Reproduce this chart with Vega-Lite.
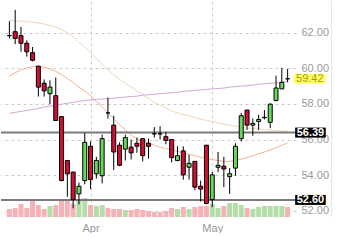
{
  "$schema": "https://vega.github.io/schema/vega-lite/v6.json",
  "width": 295,
  "height": 216,
  "padding": 0,
  "background": "white",
  "config": {"view": {"stroke": null}, "font": "Liberation Sans"},
  "datasets": {
    "candles": [
      {"i":0,"o":61.85,"h":62.66,"l":61.69,"c":61.85,"vol":1110,"ma1":62.71,"ma2":59.57,"ma3":57.48},
      {"i":1,"o":62.07,"h":63.30,"l":61.37,"c":61.69,"vol":1250,"ma1":62.68,"ma2":59.76,"ma3":57.53},
      {"i":2,"o":61.85,"h":62.34,"l":60.94,"c":61.42,"vol":1810,"ma1":62.66,"ma2":59.92,"ma3":57.58},
      {"i":3,"o":61.42,"h":61.58,"l":60.67,"c":60.94,"vol":1250,"ma1":62.65,"ma2":60.03,"ma3":57.64},
      {"i":4,"o":60.89,"h":61.21,"l":60.40,"c":60.46,"vol":2360,"ma1":62.60,"ma2":60.11,"ma3":57.69},
      {"i":5,"o":60.13,"h":60.13,"l":58.42,"c":58.95,"vol":1670,"ma1":62.56,"ma2":60.13,"ma3":57.75},
      {"i":6,"o":59.17,"h":59.38,"l":58.42,"c":58.74,"vol":1110,"ma1":62.50,"ma2":60.08,"ma3":57.83},
      {"i":7,"o":58.58,"h":59.33,"l":57.99,"c":58.95,"vol":1530,"ma1":62.42,"ma2":59.97,"ma3":57.88},
      {"i":8,"o":58.47,"h":59.49,"l":57.07,"c":57.07,"vol":1670,"ma1":62.34,"ma2":59.84,"ma3":57.93},
      {"i":9,"o":57.29,"h":57.29,"l":53.64,"c":53.69,"vol":2360,"ma1":62.20,"ma2":59.65,"ma3":57.99},
      {"i":10,"o":54.82,"h":54.82,"l":52.78,"c":54.07,"vol":2220,"ma1":62.01,"ma2":59.44,"ma3":58.04},
      {"i":11,"o":54.17,"h":54.17,"l":52.13,"c":52.62,"vol":1810,"ma1":61.80,"ma2":59.20,"ma3":58.09},
      {"i":12,"o":52.94,"h":53.58,"l":52.35,"c":53.37,"vol":2360,"ma1":61.48,"ma2":58.95,"ma3":58.15},
      {"i":13,"o":53.69,"h":56.38,"l":53.48,"c":55.84,"vol":2640,"ma1":61.21,"ma2":58.74,"ma3":58.20},
      {"i":14,"o":55.62,"h":55.89,"l":53.21,"c":53.74,"vol":1670,"ma1":60.89,"ma2":58.47,"ma3":58.23},
      {"i":15,"o":54.07,"h":55.03,"l":53.80,"c":54.82,"vol":1530,"ma1":60.56,"ma2":58.15,"ma3":58.26},
      {"i":16,"o":53.96,"h":56.27,"l":53.53,"c":56.05,"vol":1670,"ma1":60.24,"ma2":57.85,"ma3":58.28},
      {"i":17,"o":57.50,"h":58.36,"l":57.18,"c":57.50,"vol":1250,"ma1":59.92,"ma2":57.50,"ma3":58.31},
      {"i":18,"o":56.81,"h":57.34,"l":54.28,"c":55.30,"vol":1110,"ma1":59.65,"ma2":57.18,"ma3":58.33},
      {"i":19,"o":55.68,"h":55.84,"l":54.50,"c":54.55,"vol":1110,"ma1":59.38,"ma2":56.83,"ma3":58.36},
      {"i":20,"o":55.46,"h":56.27,"l":54.82,"c":56.11,"vol":970,"ma1":59.17,"ma2":56.54,"ma3":58.39},
      {"i":21,"o":55.57,"h":56.00,"l":54.87,"c":55.25,"vol":970,"ma1":58.95,"ma2":56.24,"ma3":58.42},
      {"i":22,"o":55.79,"h":56.11,"l":55.25,"c":55.62,"vol":1110,"ma1":58.74,"ma2":56.05,"ma3":58.44},
      {"i":23,"o":56.05,"h":56.05,"l":54.77,"c":55.09,"vol":970,"ma1":58.52,"ma2":55.92,"ma3":58.50},
      {"i":24,"o":55.79,"h":56.05,"l":54.93,"c":55.62,"vol":830,"ma1":58.31,"ma2":55.79,"ma3":58.52},
      {"i":25,"o":56.32,"h":56.70,"l":56.11,"c":56.32,"vol":690,"ma1":58.09,"ma2":55.68,"ma3":58.55},
      {"i":26,"o":56.32,"h":56.75,"l":56.00,"c":56.32,"vol":690,"ma1":57.93,"ma2":55.57,"ma3":58.58},
      {"i":27,"o":56.16,"h":56.43,"l":55.73,"c":55.95,"vol":830,"ma1":57.77,"ma2":55.49,"ma3":58.60},
      {"i":28,"o":56.00,"h":56.00,"l":54.71,"c":54.98,"vol":1250,"ma1":57.61,"ma2":55.41,"ma3":58.63},
      {"i":29,"o":54.82,"h":55.62,"l":54.77,"c":55.09,"vol":1110,"ma1":57.50,"ma2":55.33,"ma3":58.66},
      {"i":30,"o":55.36,"h":55.62,"l":53.74,"c":54.01,"vol":1390,"ma1":57.40,"ma2":55.25,"ma3":58.71},
      {"i":31,"o":54.44,"h":55.14,"l":53.74,"c":54.66,"vol":1110,"ma1":57.34,"ma2":55.17,"ma3":58.74},
      {"i":32,"o":54.77,"h":54.77,"l":53.15,"c":53.32,"vol":1390,"ma1":57.23,"ma2":55.09,"ma3":58.77},
      {"i":33,"o":53.37,"h":53.69,"l":52.51,"c":53.21,"vol":1530,"ma1":57.15,"ma2":55.01,"ma3":58.79},
      {"i":34,"o":55.68,"h":55.68,"l":52.35,"c":52.40,"vol":1530,"ma1":57.07,"ma2":54.93,"ma3":58.82},
      {"i":35,"o":52.62,"h":54.17,"l":52.19,"c":54.01,"vol":1810,"ma1":57.02,"ma2":54.87,"ma3":58.85},
      {"i":36,"o":54.44,"h":55.30,"l":54.17,"c":54.55,"vol":1250,"ma1":56.94,"ma2":54.82,"ma3":58.87},
      {"i":37,"o":54.50,"h":55.03,"l":53.32,"c":54.34,"vol":1530,"ma1":56.86,"ma2":54.77,"ma3":58.90},
      {"i":38,"o":53.91,"h":54.39,"l":52.94,"c":54.07,"vol":1940,"ma1":56.81,"ma2":54.77,"ma3":58.95},
      {"i":39,"o":54.39,"h":55.79,"l":53.96,"c":55.62,"vol":1940,"ma1":56.75,"ma2":54.82,"ma3":58.98},
      {"i":40,"o":56.05,"h":57.50,"l":55.89,"c":57.34,"vol":1670,"ma1":56.70,"ma2":54.90,"ma3":59.01},
      {"i":41,"o":57.66,"h":57.66,"l":56.54,"c":56.81,"vol":1250,"ma1":56.64,"ma2":54.98,"ma3":59.03},
      {"i":42,"o":56.81,"h":57.18,"l":56.21,"c":56.91,"vol":1110,"ma1":56.62,"ma2":55.09,"ma3":59.06},
      {"i":43,"o":57.02,"h":57.40,"l":56.54,"c":57.13,"vol":1390,"ma1":56.59,"ma2":55.20,"ma3":59.11},
      {"i":44,"o":57.23,"h":57.66,"l":57.13,"c":57.25,"vol":1530,"ma1":56.56,"ma2":55.30,"ma3":59.14},
      {"i":45,"o":56.97,"h":58.04,"l":56.64,"c":57.99,"vol":1530,"ma1":56.54,"ma2":55.41,"ma3":59.17},
      {"i":46,"o":58.20,"h":59.60,"l":58.15,"c":58.90,"vol":1530,"ma1":56.51,"ma2":55.54,"ma3":59.19},
      {"i":47,"o":58.85,"h":60.03,"l":58.85,"c":59.22,"vol":1530,"ma1":56.48,"ma2":55.68,"ma3":59.22},
      {"i":48,"o":59.42,"h":59.97,"l":59.22,"c":59.42,"vol":1390,"ma1":56.46,"ma2":55.81,"ma3":59.28}
    ],
    "levels": [{"v": 56.39}, {"v": 52.60}],
    "last": [{"v": 59.42}]
  },
  "layer": [
    {
      "data": {"name": "candles"},
      "mark": {"type": "bar", "size": 5},
      "encoding": {
        "x": {"field": "i", "type": "quantitative", "scale": {"domain": [-0.583, 48.583], "nice": false, "zero": false},
          "axis": {"values": [14, 35], "labelExpr": "datum.value == 14 ? 'Apr' : 'May'", "title": null, "ticks": false, "domain": false,
            "labelColor": "#999999", "labelFontSize": 11, "labelPadding": 5, "labelFlush": false,
            "grid": true, "gridColor": "#cccccc", "gridDash": [3, 3]}},
        "y": {"field": "vol", "type": "quantitative", "scale": {"domain": [0, 30000], "nice": false}, "axis": null},
        "color": {"condition": {"test": "datum.c > datum.o", "value": "#b3deaa"}, "value": "#f5b3b8"}
      }
    },
    {
      "layer": [
        {
          "data": {"name": "candles"},
          "mark": {"type": "line", "stroke": "#efd9bb", "strokeWidth": 1},
          "encoding": {
            "x": {"field": "i", "type": "quantitative"},
            "y": {"field": "ma1", "type": "quantitative", "scale": {"domain": [51.92, 63.517], "nice": false, "zero": false},
              "axis": {"orient": "right", "values": [52, 54, 56, 58, 60, 62], "format": ".2f", "title": null, "ticks": false, "domain": false,
                "labelColor": "#999999", "labelFontSize": 11, "labelPadding": 5, "labelAlign": "left", "labelBaseline": "middle",
                "grid": true, "gridColor": "#cccccc", "gridDash": [3, 3]}}
          }
        },
        {
          "data": {"name": "candles"},
          "mark": {"type": "line", "stroke": "#edb494", "strokeWidth": 1},
          "encoding": {
            "x": {"field": "i", "type": "quantitative"},
            "y": {"field": "ma2", "type": "quantitative"}
          }
        },
        {
          "data": {"name": "candles"},
          "mark": {"type": "line", "stroke": "#d9a6d3", "strokeWidth": 1},
          "encoding": {
            "x": {"field": "i", "type": "quantitative"},
            "y": {"field": "ma3", "type": "quantitative"}
          }
        },
        {
          "data": {"name": "levels"},
          "mark": {"type": "rule", "stroke": "#7a7a7a", "strokeWidth": 2},
          "encoding": {"y": {"field": "v", "type": "quantitative"}}
        },
        {
          "data": {"name": "candles"},
          "mark": {"type": "rule", "stroke": "#000000", "strokeWidth": 1},
          "encoding": {
            "x": {"field": "i", "type": "quantitative"},
            "y": {"field": "h", "type": "quantitative"},
            "y2": {"field": "l"}
          }
        },
        {
          "data": {"name": "candles"},
          "mark": {"type": "bar", "size": 4, "stroke": "#000000", "strokeWidth": 1},
          "encoding": {
            "x": {"field": "i", "type": "quantitative"},
            "y": {"field": "o", "type": "quantitative"},
            "y2": {"field": "c"},
            "fill": {"condition": {"test": "datum.c > datum.o", "value": "#66d95a"}, "value": "#d01030"}
          }
        },
        {
          "data": {"name": "levels"},
          "mark": {"type": "bar", "size": 10, "fill": "#000000"},
          "encoding": {
            "x": {"datum": 49.3, "type": "quantitative"},
            "x2": {"datum": 54.58},
            "y": {"field": "v", "type": "quantitative"}
          }
        },
        {
          "data": {"name": "levels"},
          "mark": {"type": "text", "color": "#ffffff", "fontWeight": "bold", "fontSize": 11, "align": "center", "baseline": "middle", "dy": 0.5},
          "encoding": {
            "x": {"datum": 51.94, "type": "quantitative"},
            "y": {"field": "v", "type": "quantitative"},
            "text": {"field": "v", "type": "quantitative", "format": ".2f"}
          }
        },
        {
          "data": {"name": "last"},
          "mark": {"type": "bar", "size": 10, "fill": "#ffff66"},
          "encoding": {
            "x": {"datum": 49.08, "type": "quantitative"},
            "x2": {"datum": 54.58},
            "y": {"field": "v", "type": "quantitative"}
          }
        },
        {
          "data": {"name": "last"},
          "mark": {"type": "text", "color": "#a39e00", "fontSize": 11, "align": "center", "baseline": "middle", "dy": 0.5},
          "encoding": {
            "x": {"datum": 51.83, "type": "quantitative"},
            "y": {"field": "v", "type": "quantitative"},
            "text": {"field": "v", "type": "quantitative", "format": ".2f"}
          }
        },
        {
          "data": {"values": [{"b": 55.58}]},
          "mark": {"type": "rule", "stroke": "#e6e6e6", "strokeWidth": 1},
          "encoding": {"x": {"field": "b", "type": "quantitative"}}
        }
      ]
    }
  ],
  "resolve": {"scale": {"y": "independent"}}
}
